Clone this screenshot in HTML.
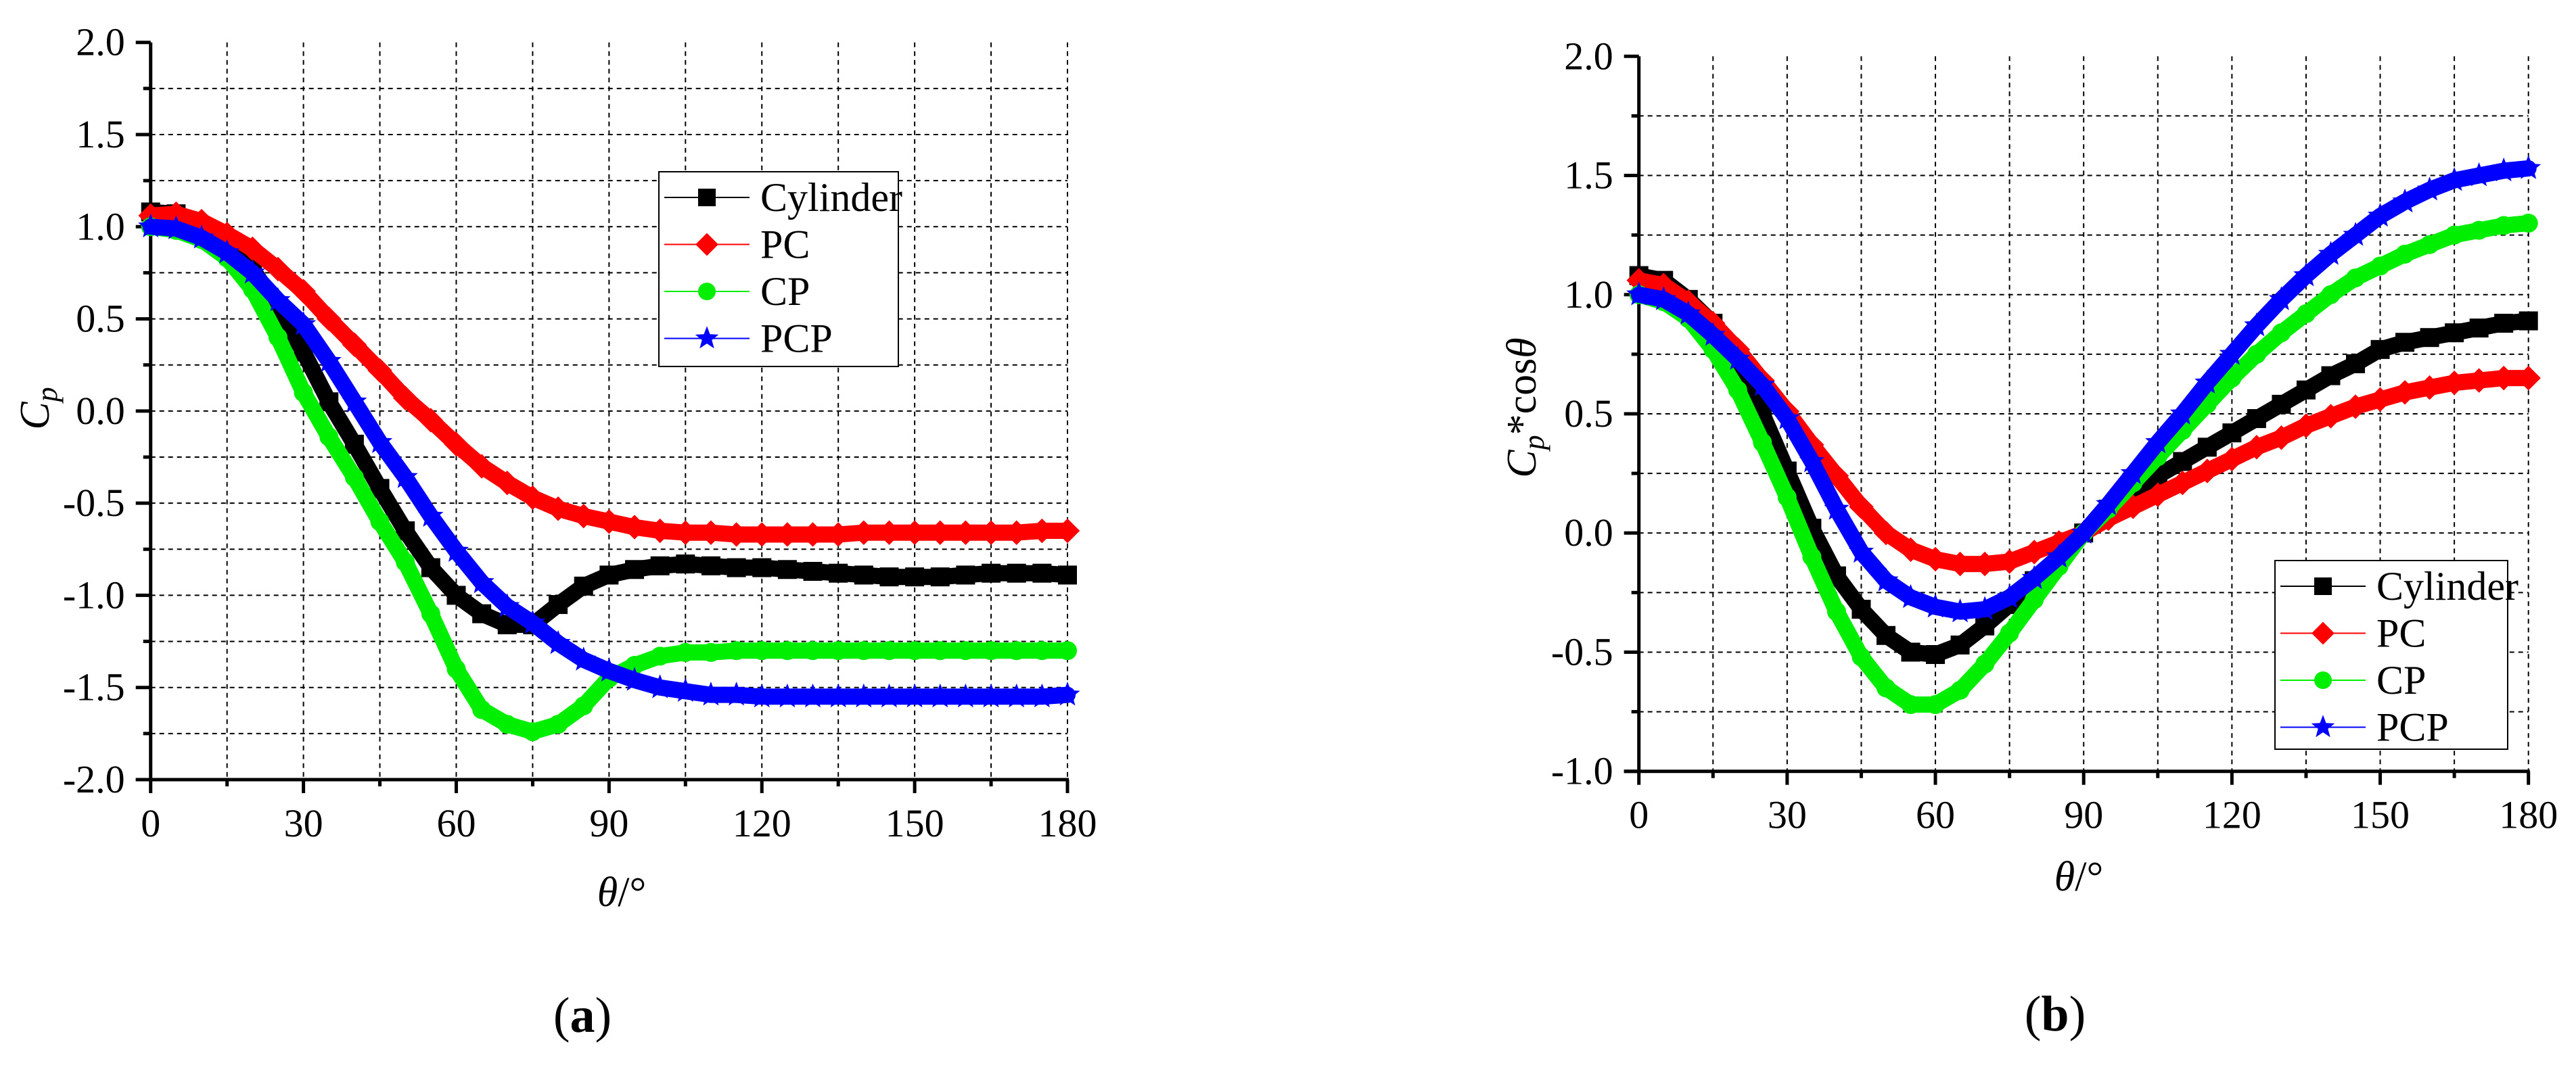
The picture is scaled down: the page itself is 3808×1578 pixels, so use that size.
<!DOCTYPE html>
<html><head><meta charset="utf-8">
<style>
html,body{margin:0;padding:0;background:#fff;}
svg{display:block;}
svg text{font-family:"Liberation Serif","Times New Roman",Times,"DejaVu Serif",serif;}
</style></head>
<body>
<svg id="fig" width="3808" height="1578" viewBox="0 0 3808 1578" xmlns="http://www.w3.org/2000/svg">
<rect width="3808" height="1578" fill="#fff"/>
<g id="plotA"></g>
<g id="plotB"></g>
</svg>
<script>
const angles = [0,5,10,15,20,25,30,35,40,45,50,55,60,65,70,75,80,85,90,95,100,105,110,115,120,125,130,135,140,145,150,155,160,165,170,175,180];
const aCylinder = [1.08,1.07,1.0,0.9,0.77,0.56,0.32,0.05,-0.18,-0.42,-0.65,-0.85,-1.0,-1.1,-1.16,-1.16,-1.05,-0.95,-0.89,-0.86,-0.84,-0.83,-0.84,-0.85,-0.85,-0.86,-0.87,-0.88,-0.89,-0.9,-0.9,-0.9,-0.89,-0.88,-0.88,-0.88,-0.89];
const aPC = [1.06,1.07,1.03,0.96,0.88,0.77,0.65,0.5,0.36,0.22,0.07,-0.05,-0.18,-0.3,-0.39,-0.47,-0.53,-0.57,-0.6,-0.63,-0.65,-0.66,-0.66,-0.67,-0.67,-0.67,-0.67,-0.67,-0.66,-0.66,-0.66,-0.66,-0.66,-0.66,-0.66,-0.65,-0.65];
const aCP = [1.0,0.98,0.93,0.83,0.66,0.4,0.1,-0.14,-0.36,-0.6,-0.82,-1.1,-1.4,-1.62,-1.7,-1.74,-1.7,-1.6,-1.45,-1.38,-1.33,-1.31,-1.31,-1.3,-1.3,-1.3,-1.3,-1.3,-1.3,-1.3,-1.3,-1.3,-1.3,-1.3,-1.3,-1.3,-1.3];
const aPCP = [1.0,0.99,0.94,0.86,0.75,0.6,0.47,0.27,0.05,-0.17,-0.36,-0.57,-0.76,-0.93,-1.06,-1.15,-1.26,-1.35,-1.41,-1.46,-1.5,-1.52,-1.54,-1.54,-1.55,-1.55,-1.55,-1.55,-1.55,-1.55,-1.55,-1.55,-1.55,-1.55,-1.55,-1.55,-1.54];
const bCylinder = [1.08,1.06,0.98,0.88,0.72,0.5,0.26,0.02,-0.18,-0.32,-0.43,-0.5,-0.51,-0.47,-0.39,-0.3,-0.2,-0.1,0.0,0.1,0.18,0.24,0.3,0.36,0.42,0.48,0.54,0.6,0.66,0.71,0.77,0.8,0.82,0.84,0.86,0.88,0.89];
const bPC = [1.06,1.04,0.97,0.88,0.77,0.64,0.51,0.37,0.24,0.11,0.0,-0.07,-0.11,-0.13,-0.13,-0.12,-0.08,-0.04,0.0,0.06,0.11,0.16,0.21,0.26,0.31,0.36,0.4,0.45,0.49,0.53,0.56,0.59,0.61,0.63,0.64,0.65,0.65];
const bCP = [1.0,0.97,0.9,0.77,0.6,0.38,0.15,-0.1,-0.33,-0.52,-0.65,-0.72,-0.72,-0.66,-0.55,-0.42,-0.28,-0.14,0.0,0.1,0.21,0.32,0.43,0.54,0.65,0.75,0.84,0.92,1.0,1.07,1.12,1.17,1.21,1.25,1.27,1.29,1.3];
const bPCP = [1.0,0.98,0.92,0.83,0.73,0.62,0.48,0.3,0.1,-0.08,-0.2,-0.27,-0.31,-0.33,-0.32,-0.27,-0.19,-0.1,0.0,0.12,0.25,0.38,0.5,0.63,0.75,0.87,0.98,1.08,1.17,1.25,1.33,1.39,1.44,1.48,1.5,1.52,1.53];
const xTicks = [0,30,60,90,120,150,180];
const aYTicks = [2.0,1.5,1.0,0.5,0.0,-0.5,-1.0,-1.5,-2.0];
const bYTicks = [2.0,1.5,1.0,0.5,0.0,-0.5,-1.0];
const seriesNames = ["Cylinder","PC","CP","PCP"];

const NS = "http://www.w3.org/2000/svg";
const colors = {Cylinder:"#000", PC:"#ff0000", CP:"#00ee00", PCP:"#0000ff"};
const shapes = {Cylinder:"square", PC:"diamond", CP:"circle", PCP:"star"};
function mk(parent, tag, attrs){const e=document.createElementNS(NS,tag);for(const k in attrs)e.setAttribute(k,attrs[k]);parent.appendChild(e);return e;}
function marker(g, shape, cx, cy, col, s){
  let e;
  if(shape==="square"){e=mk(g,"rect",{x:cx-s/2,y:cy-s/2,width:s,height:s,fill:col});}
  else if(shape==="diamond"){const r=s*0.65;e=mk(g,"polygon",{points:`${cx},${cy-r} ${cx+r},${cy} ${cx},${cy+r} ${cx-r},${cy}`,fill:col});}
  else if(shape==="circle"){e=mk(g,"circle",{cx:cx,cy:cy,r:s/2,fill:col});}
  else {let p=[];const R=s*0.7,r=R*0.42;for(let i=0;i<10;i++){const a=-Math.PI/2+i*Math.PI/5;const rr=i%2?r:R;p.push((cx+rr*Math.cos(a)).toFixed(1)+","+(cy+rr*Math.sin(a)).toFixed(1));}e=mk(g,"polygon",{points:p.join(" "),fill:col});}
  return e;
}
function drawPlot(g, cfg){
  const xs=v=>cfg.x0+(v-0)/(180-0)*(cfg.x1-cfg.x0);
  const ys=v=>cfg.yTop+(cfg.yMax-v)/(cfg.yMax-cfg.yMin)*(cfg.yBot-cfg.yTop);
  const grid=mk(g,"g",{stroke:"#000","stroke-width":2,"stroke-dasharray":"7,6"});
  
  
  for(let v=15;v<=180;v+=15){mk(grid,"line",{x1:xs(v),x2:xs(v),y1:cfg.yTop,y2:cfg.yBot});}
  for(let v=cfg.yMin+0.25;v<=cfg.yMax-0.25+1e-9;v+=0.25){mk(grid,"line",{x1:cfg.x0,x2:cfg.x1,y1:ys(v),y2:ys(v)});}
  const ax=mk(g,"g",{stroke:"#000","stroke-width":5,fill:"none"});
  
  
  mk(ax,"line",{x1:cfg.x0,x2:cfg.x0,y1:cfg.yTop,y2:cfg.yBot+2});
  mk(ax,"line",{x1:cfg.x0-22,x2:cfg.x1+2,y1:cfg.yBot,y2:cfg.yBot});
  for(let v=cfg.yMin;v<=cfg.yMax+1e-9;v+=0.25){const major=Math.abs((v*2)-Math.round(v*2))<1e-6;mk(ax,"line",{x1:cfg.x0-(major?22:11),x2:cfg.x0,y1:ys(v),y2:ys(v)});}
  for(let v=0;v<=180;v+=15){const major=v%30===0;mk(ax,"line",{x1:xs(v),x2:xs(v),y1:cfg.yBot,y2:cfg.yBot+(major?20:10)});}
  cfg.yTicks.forEach(v=>{const t=mk(g,"text",{x:cfg.x0-38,y:ys(v)+19,"text-anchor":"end","font-size":58});t.textContent=v.toFixed(1);});
  xTicks.forEach(v=>{const t=mk(g,"text",{x:xs(v),y:cfg.yBot+84,"text-anchor":"middle","font-size":58});t.textContent=String(v);});
  cfg.series.forEach((vals,i)=>{
    const name=seriesNames[i];const col=colors[name];
    const sg=mk(g,"g",{});
    
    
    const pts=angles.map((a,j)=>xs(a).toFixed(1)+","+ys(vals[j]).toFixed(1)).join(" ");
    mk(sg,"polyline",{points:pts,fill:"none",stroke:col,"stroke-width":24,"stroke-linejoin":"round","stroke-linecap":"round"});
    angles.forEach((a,j)=>{const m=marker(sg,shapes[name],xs(a),ys(vals[j]),col,28);});
  });
  const L=cfg.legend;
  const lg=mk(g,"g",{});
  
  
  mk(lg,"rect",{x:L.x,y:L.y,width:L.w,height:L.h,fill:"#fff",stroke:"#000","stroke-width":2});
  seriesNames.forEach((n,i)=>{
    const cy=L.y+38+i*69.5;
    const eg=mk(lg,"g",{});
    
    
    mk(eg,"line",{x1:L.x+8,x2:L.x+134,y1:cy,y2:cy,stroke:colors[n],"stroke-width":2});
    marker(eg,shapes[n],L.x+71,cy,colors[n],26);
    const t=mk(eg,"text",{x:L.x+150,y:cy+20,"font-size":60});t.textContent=n;
  });
}
drawPlot(document.getElementById("plotA"),{x0:222.7,x1:1578,yTop:62.7,yBot:1153,yMin:-2,yMax:2,yTicks:aYTicks,series:[aCylinder,aPC,aCP,aPCP],legend:{x:974,y:254,w:354,h:288}});
drawPlot(document.getElementById("plotB"),{x0:2422.7,x1:3737.7,yTop:83.3,yBot:1140.7,yMin:-1,yMax:2,yTicks:bYTicks,series:[bCylinder,bPC,bCP,bPCP],legend:{x:3363,y:829,w:344,h:279}});
</script>
<script>
(function(){
const svg=document.getElementById("fig");
function txt(html,attrs,name){const t=document.createElementNS("http://www.w3.org/2000/svg","text");for(const k in attrs)t.setAttribute(k,attrs[k]);t.innerHTML=html;svg.appendChild(t);return t;}
txt('<tspan font-style="italic">C</tspan><tspan font-style="italic" font-size="44" dy="12">p</tspan>',{x:0,y:0,"font-size":62,"text-anchor":"middle",transform:"translate(72,604) rotate(-90)"},'y-axis-title-a');
txt('<tspan font-style="italic">θ</tspan>/°',{x:919,y:1340,"font-size":62,"text-anchor":"middle"},'x-axis-title-a');
txt('(<tspan font-weight="bold">a</tspan>)',{x:861,y:1526,"font-size":74,"text-anchor":"middle"},'caption-a');
txt('<tspan font-style="italic">C</tspan><tspan font-style="italic" font-size="44" dy="12">p</tspan><tspan dy="-12">*cos</tspan><tspan font-style="italic">θ</tspan>',{x:0,y:0,"font-size":62,"text-anchor":"middle",transform:"translate(2270,603) rotate(-90)"},'y-axis-title-b');
txt('<tspan font-style="italic">θ</tspan>/°',{x:3073,y:1317,"font-size":62,"text-anchor":"middle"},'x-axis-title-b');
txt('(<tspan font-weight="bold">b</tspan>)',{x:3038,y:1524,"font-size":74,"text-anchor":"middle"},'caption-b');
})();
</script>
</body></html>
